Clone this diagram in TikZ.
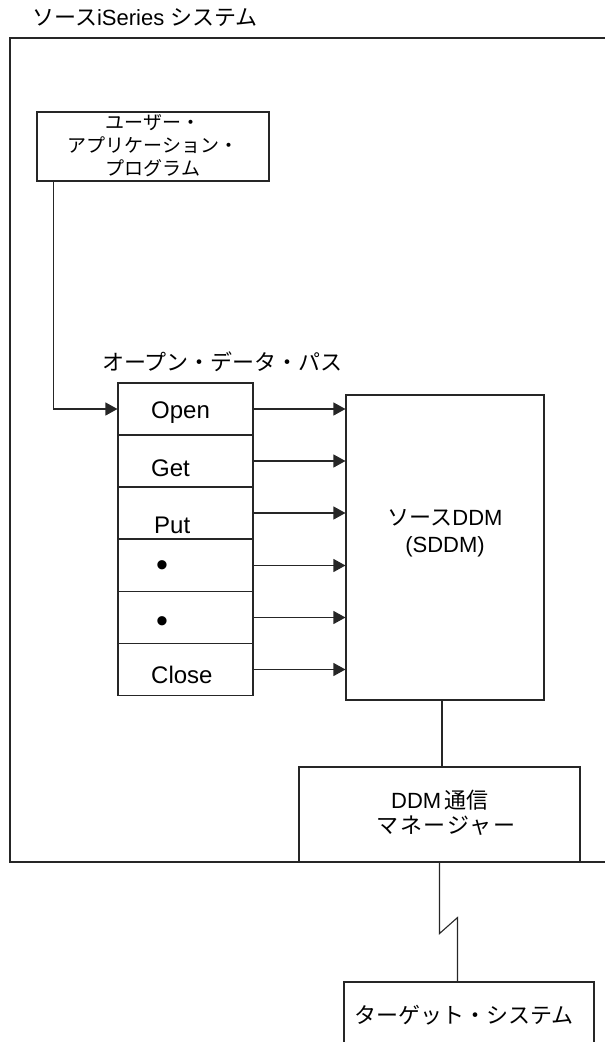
\documentclass[tikz,border=0pt]{standalone}
\usepackage{fontspec}
\setmainfont{Liberation Sans}
\newfontfamily\jp{Noto Sans CJK JP}
\newfontfamily\jpwide[LetterSpace=7]{Noto Sans CJK JP}
\usetikzlibrary{arrows.meta}
\begin{document}
\begin{tikzpicture}[x=1pt,y=-1pt,
  line/.style={line width=1.1pt, draw=black!85},
  box/.style={line, rectangle, inner sep=0pt},
  arr/.style={line, -{Triangle[length=12pt,width=13pt]}},
  lbl/.style={inner sep=0pt, font=\fontsize{22}{26}\selectfont},
  cell/.style={inner sep=0pt, font=\fontsize{24}{28}\selectfont},
  jlbl/.style={inner sep=0pt, font=\jp\fontsize{22}{26}\selectfont},
]
\useasboundingbox (0,0) rectangle (605,1042);
% title and outer frame
\node[lbl, anchor=base west] (title) at (32,25) {{\jp ソース}iSeries {\jp システム}};
\draw[line] (605,38) -- (10,38) -- (10,862) -- (605,862);
% user application program
\node[box, minimum width=232, minimum height=69] (uap) at (153,146.5) {};
\node[inner sep=0pt, align=center, font=\jp\fontsize{19}{23}\selectfont] (uapt) at (153,146) {ユーザー・\\アプリケーション・\\プログラム};
% open data path
\node[jlbl, anchor=base west] (odp) at (102,370) {オープン・データ・パス};
\foreach \n/\y in {open/409, get/461, put/513, dota/565.5, dotb/617.5, close/669.5}
  \node[box, minimum width=135, minimum height=52] (\n) at (185.5,\y) {};
\node[cell, anchor=base west] (opent) at (151,418) {Open};
\node[cell, anchor=base west] (gett) at (151,476) {Get};
\node[cell, anchor=base west] (putt) at (154,533) {Put};
\node[cell, font=\fontsize{34}{34}\selectfont] (dotat) at (162,569) {\textbullet};
\node[cell, font=\fontsize{34}{34}\selectfont] (dotbt) at (162,625) {\textbullet};
\node[cell, anchor=base west] (closet) at (151,683) {Close};
% SDDM
\node[box, minimum width=198, minimum height=305] (sddm) at (445,547.5) {};
\node[lbl, anchor=base] (sddmt1) at (445,525) {{\jp ソース}DDM};
\node[lbl, anchor=base] (sddmt2) at (445,552) {(SDDM)};
% DDM comm manager
\node[box, minimum width=281, minimum height=95] (ddm) at (439.5,814.5) {};
\node[lbl, anchor=base] (ddmt1) at (440,808) {DDM\,{\jp 通信}};
\node[inner sep=0pt, anchor=base, font=\jpwide\fontsize{22}{26}\selectfont] (ddmt2) at (446,833) {マネージャー};
% target system (box cut off at the bottom)
\coordinate (tgttop) at (458,982);
\draw[line] (344,1045) -- (344,982) -- (594,982) -- (594,1045);
\node[jlbl, anchor=base] (tgtt) at (464,1023) {ターゲット・システム};
% connectors
\draw[arr] ([xshift=17pt]uap.south west) |- (open.west);
\foreach \n in {open, get, put, dota, dotb, close}
  \draw[arr] (\n.east) -- (\n.east -| sddm.west);
\draw[line] ([xshift=-3pt]sddm.south) -- ([xshift=-3pt]sddm.south |- ddm.north);
\draw[line] (ddm.south) -- ++(0,71) -- ++(18,-16) |- (tgttop);
\end{tikzpicture}
\end{document}
